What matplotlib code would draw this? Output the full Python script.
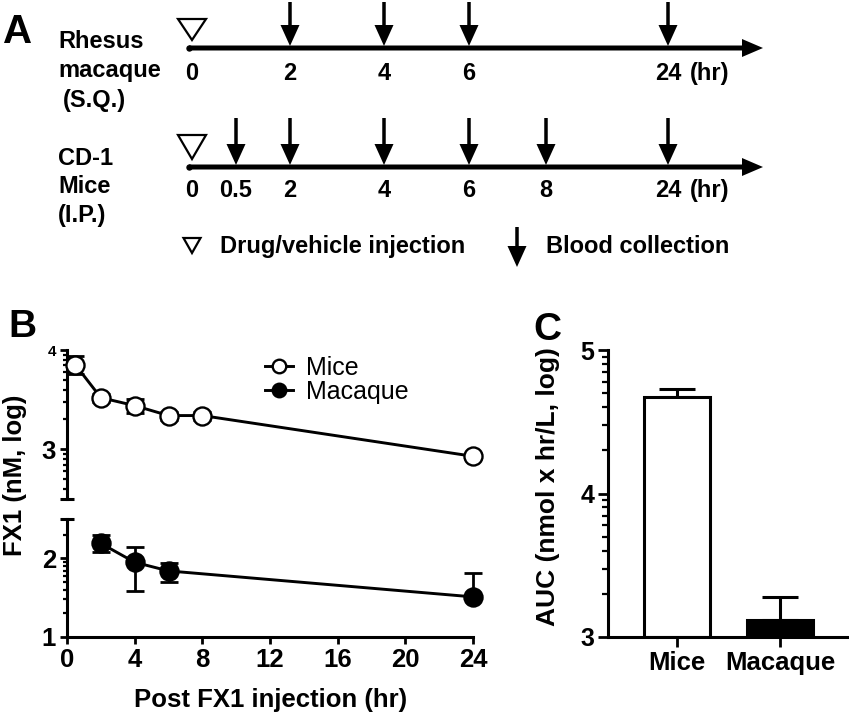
import matplotlib.pyplot as plt
import numpy as np
from matplotlib.patches import Polygon

plt.rcParams['font.family'] = ['Liberation Sans', 'DejaVu Sans']
plt.rcParams['font.weight'] = 'bold'
plt.rcParams['axes.linewidth'] = 2.2

# --- panel A: sampling schedule ---
macaque_times = ['2', '4', '6', '24']
mice_times = ['0.5', '2', '4', '6', '8', '24']

# --- panel B: FX1 levels (log10 nM) ---
mice_t = [0.5, 2, 4, 6, 8, 24]
mice_fx1 = [3.85, 3.52, 3.44, 3.34, 3.34, 2.93]
mice_sd = [0.09, 0.04, 0.07, 0.04, 0.04, 0.03]

mac_t = [2, 4, 6, 24]
mac_fx1 = [2.19, 1.95, 1.84, 1.51]
mac_err_lo = [0.11, 0.37, 0.14, 0.0]
mac_err_hi = [0.11, 0.20, 0.10, 0.30]

# --- panel C: AUC (log10 nmol x hr/L) ---
groups = ['Mice', 'Macaque']
auc = [4.675, 3.12]
auc_err = [0.055, 0.16]

W, H = 849, 714
fig = plt.figure(figsize=(W / 100, H / 100), dpi=100)

# overlay in pixel units for the schematic and free text
ax_a = fig.add_axes([0, 0, 1, 1])
ax_a.set_xlim(0, W)
ax_a.set_ylim(H, 0)
ax_a.axis('off')

# schematic layout (pixel positions of each time on the drawing)
time_x = {'0': 192, '0.5': 236, '2': 290, '4': 384, '6': 469, '8': 546, '24': 668}
fs_a = 17


def down_arrow(x, top, tip):
    ax_a.arrow(x, top, 0, tip - top, width=3.5, head_width=19, head_length=21,
               length_includes_head=True, fc='k', ec='k', lw=0)


def triangle(x, top, apex, half):
    ax_a.add_patch(Polygon([(x - half, top), (x + half, top), (x, apex)], closed=True,
                           fc='white', ec='k', lw=1.6, joinstyle='miter'))


def timeline(y, times, arrow_top, tri_top, label_base):
    ax_a.arrow(189, y, 763 - 189, 0, width=5, head_width=18, head_length=21,
               length_includes_head=True, fc='k', ec='k', lw=0)
    ax_a.plot([189], [y], 'o', ms=3.6, color='k')
    triangle(time_x['0'], tri_top, y - 8, 14)
    for t in times:
        down_arrow(time_x[t], arrow_top, y - 2)
    for t in ['0'] + times:
        ax_a.text(time_x[t], label_base, t, ha='center', va='baseline', fontsize=fs_a)
    ax_a.text(710, label_base, '(hr)', ha='center', va='baseline', fontsize=fs_a)


ax_a.text(3, 43, 'A', fontsize=29, va='baseline')
ax_a.text(58, 48, 'Rhesus', fontsize=fs_a, va='baseline')
ax_a.text(58, 77, 'macaque', fontsize=fs_a, va='baseline')
ax_a.text(63, 107, '(S.Q.)', fontsize=fs_a, va='baseline')
timeline(48, macaque_times, 2, 19, 80)

ax_a.text(58, 165, 'CD-1', fontsize=fs_a, va='baseline')
ax_a.text(58, 193, 'Mice', fontsize=fs_a, va='baseline')
ax_a.text(58, 222, '(I.P.)', fontsize=fs_a, va='baseline')
timeline(167, mice_times, 118, 135, 197)

triangle(192, 238, 253, 8.5)
ax_a.text(220, 253, 'Drug/vehicle injection', fontsize=fs_a, va='baseline')
down_arrow(517, 227, 267)
ax_a.text(546, 253, 'Blood collection', fontsize=fs_a, va='baseline')

# --- panel B ---
ax_up = fig.add_axes([67 / W, (H - 499) / H, 406 / W, 149 / H])
ax_lo = fig.add_axes([67 / W, (H - 637) / H, 406 / W, 118 / H])
for ax in (ax_up, ax_lo):
    ax.set_xlim(0, 24)
    ax.patch.set_visible(False)
    for s in ('top', 'right'):
        ax.spines[s].set_visible(False)
    ax.tick_params(axis='both', which='major', direction='out', length=5, width=2, pad=3)
    ax.tick_params(axis='y', which='minor', direction='out', length=3, width=1.6)
ax_up.set_ylim(2.5, 4)
ax_lo.set_ylim(1, 2.5)
ax_up.spines['bottom'].set_visible(False)
ax_up.tick_params(axis='x', bottom=False, labelbottom=False)

ax_up.set_yticks([3, 4])
ax_up.set_yticklabels(['3', '4'], fontsize=18.5)
ax_up.get_yticklabels()[1].set_fontsize(11)
ax_up.set_yticks(np.log10([400, 500, 600, 700, 800, 900, 2000, 3000, 4000, 5000,
                           6000, 7000, 8000, 9000]), minor=True)
ax_lo.set_yticks([1, 2])
ax_lo.set_yticklabels(['1', '2'], fontsize=18.5)
ax_lo.set_yticks(np.log10([20, 30, 40, 50, 60, 70, 80, 90, 200]), minor=True)
ax_lo.set_xticks(np.arange(0, 25, 4))
ax_lo.tick_params(axis='x', labelsize=18.5)

# break caps
for ax, yv in ((ax_up, 2.5), (ax_lo, 2.5)):
    ax.plot([-0.018, 0.018], [yv, yv], color='k', lw=2.2, clip_on=False,
            transform=ax.get_yaxis_transform(), solid_capstyle='butt')

ax_up.errorbar(mice_t, mice_fx1, yerr=mice_sd, fmt='none', ecolor='k', elinewidth=2,
               capsize=6.5, capthick=2, zorder=2, clip_on=False)
l_mice, = ax_up.plot(mice_t, mice_fx1, '-o', color='k', lw=2.1, ms=13, mfc='white',
                     mec='k', mew=1.7, zorder=3, clip_on=False)
ax_lo.errorbar(mac_t, mac_fx1, yerr=[mac_err_lo, mac_err_hi], fmt='none', ecolor='k',
               elinewidth=2, capsize=6.5, capthick=2, zorder=2, clip_on=False)
l_mac, = ax_lo.plot(mac_t, mac_fx1, '-o', color='k', lw=2.1, ms=13, mfc='k',
                    mec='k', mew=1.7, zorder=3, clip_on=False)

fig.legend([l_mice, l_mac], ['Mice', 'Macaque'], loc='upper left',
           bbox_to_anchor=(265 / W, 1 - 356 / H), frameon=False,
           prop={'weight': 'normal', 'size': 18}, handlelength=1.1, handletextpad=0.55,
           labelspacing=0.0, borderpad=0, borderaxespad=0, markerscale=0.75)

ax_a.text(8, 337, 'B', fontsize=28, va='baseline')
ax_a.text(15, 475, 'FX1 (nM, log)', rotation=90, ha='center', va='center', fontsize=18.5)
ax_a.text(271, 700, 'Post FX1 injection (hr)', ha='center', va='center', fontsize=18.5)

# --- panel C ---
ax_c = fig.add_axes([608 / W, (H - 637) / H, 241 / W, 287 / H])
ax_c.patch.set_visible(False)
for s in ('top', 'right'):
    ax_c.spines[s].set_visible(False)
base = 3
xpos = np.arange(len(groups))
ax_c.errorbar(xpos, auc, yerr=[np.zeros(len(auc)), auc_err], fmt='none', ecolor='k',
              elinewidth=2.2, capsize=13, capthick=2.2, zorder=1)
ax_c.bar(xpos, np.array(auc) - base, bottom=base, width=0.64, color=['white', 'black'],
         edgecolor='k', linewidth=2.2, zorder=2)
ax_c.set_xlim(-0.67, 1.67)
ax_c.set_ylim(3, 5)
ax_c.set_xticks(xpos)
ax_c.set_xticklabels(groups, fontsize=18.5)
ax_c.set_yticks([3, 4, 5])
ax_c.set_yticklabels(['3', '4', '5'], fontsize=18)
ax_c.set_yticks(np.log10([2000, 3000, 4000, 5000, 6000, 7000, 8000, 9000,
                          20000, 30000, 40000, 50000, 60000, 70000, 80000, 90000]), minor=True)
ax_c.tick_params(axis='both', which='major', direction='out', length=7, width=2, pad=3)
ax_c.tick_params(axis='y', which='minor', direction='out', length=4, width=1.6)

ax_a.text(533, 340, 'C', fontsize=28, va='baseline')
ax_a.text(548, 487, 'AUC (nmol x hr/L, log)', rotation=90, ha='center', va='center',
          fontsize=19)

fig.savefig('out.png', dpi=100)
